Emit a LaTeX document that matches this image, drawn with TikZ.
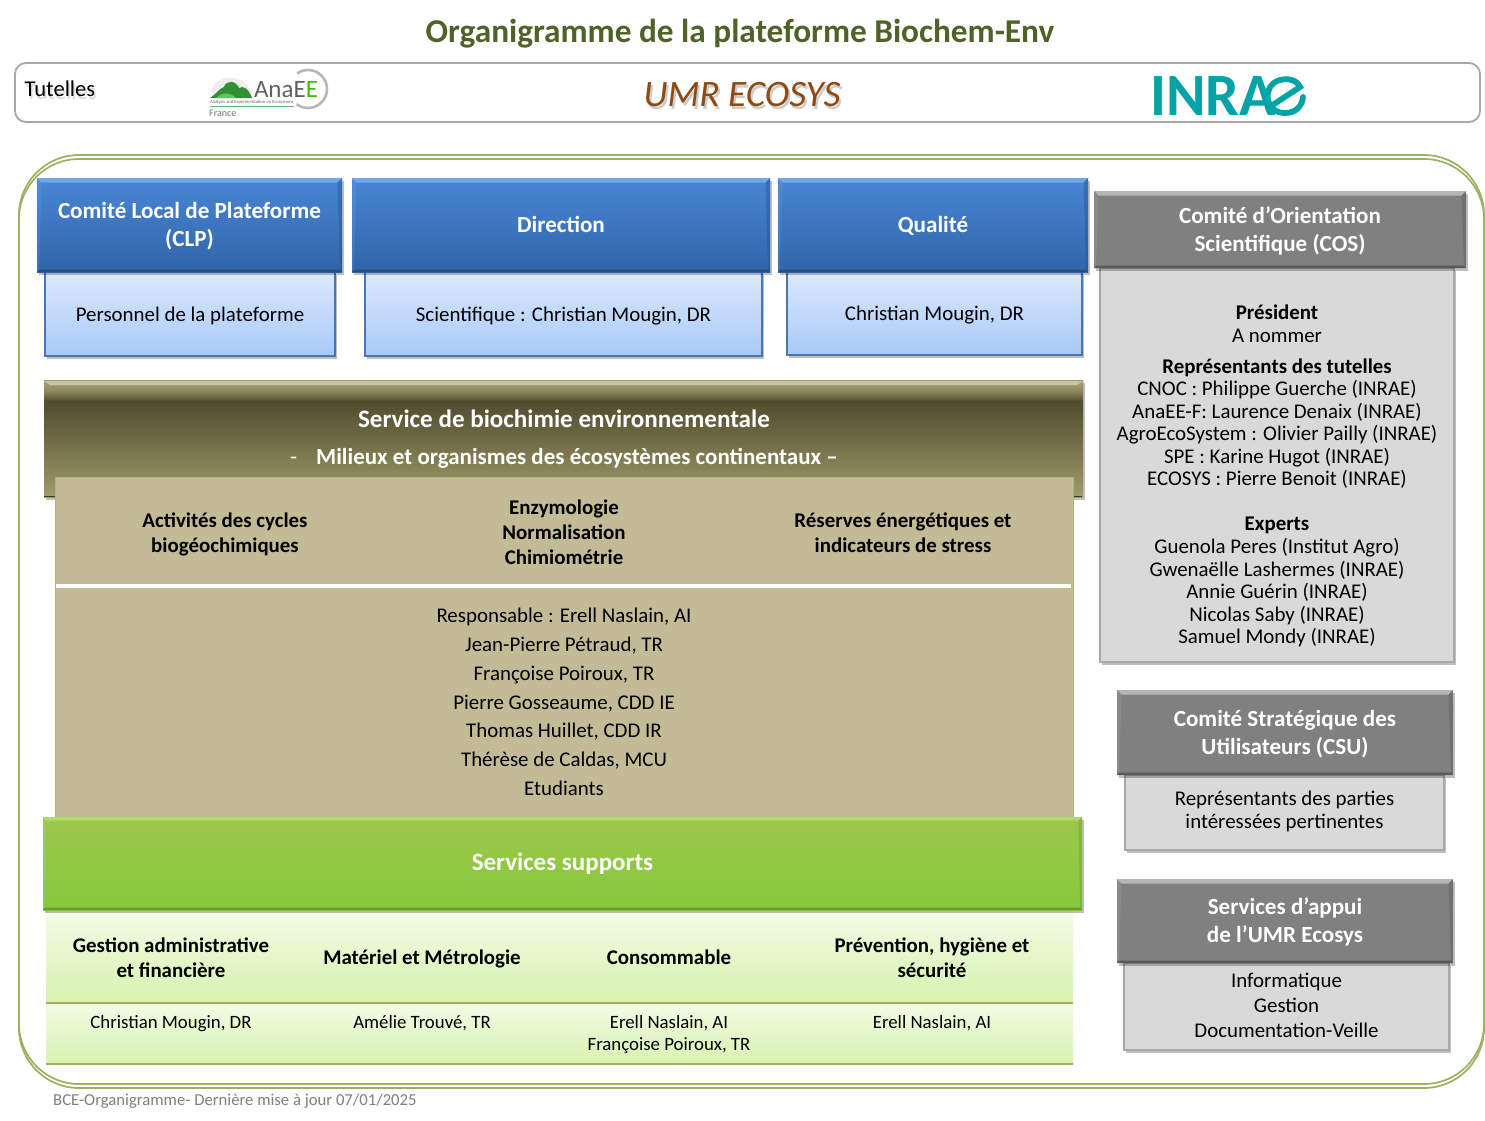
\documentclass[tikz,border=0pt]{standalone}
\usepackage{fontspec}
\setmainfont{Carlito}
\usetikzlibrary{shadows,calc}
\definecolor{titlegreen}{HTML}{4F6228}
\definecolor{framegreen}{HTML}{9BB25F}
\definecolor{tanfill}{HTML}{C3BB96}
\definecolor{inrae}{HTML}{00A3A6}
\definecolor{umrcol}{HTML}{8F4A12}
\definecolor{bluetop}{HTML}{4A86D6}\definecolor{bluebot}{HTML}{2F65A8}\definecolor{bluelite}{HTML}{6FA8EA}\definecolor{bluedark}{HTML}{28507F}
\definecolor{blueline}{HTML}{4877B0}\definecolor{paletop}{HTML}{DCE9FD}\definecolor{palebot}{HTML}{A9C9F9}
\definecolor{grayhd}{HTML}{808080}\definecolor{graylite}{HTML}{B5B5B5}\definecolor{graydark}{HTML}{595959}
\definecolor{grayline}{HTML}{A8A8A8}\definecolor{graybg}{HTML}{D9D9D9}\definecolor{tanline}{HTML}{A9B87A}
\definecolor{lgtop}{HTML}{F3FCE6}\definecolor{lgbot}{HTML}{D7F2AE}
\definecolor{grtop}{HTML}{9DC74C}\definecolor{grbot}{HTML}{85C93B}\definecolor{grlite}{HTML}{B2DB66}\definecolor{grdark}{HTML}{6A9A34}
\definecolor{brtop}{HTML}{A39D6C}\definecolor{brbot}{HTML}{A09B69}\definecolor{brdk}{HTML}{504B2D}\definecolor{brdeep}{HTML}{3F3A20}
\newcommand{\fs}[2]{\fontsize{#1}{#2}\selectfont}
\newcommand{\rbox}[6][]{%
  \pgfmathsetmacro{\cxx}{(#3+#5)/2}\pgfmathsetmacro{\cyy}{(#4+#6)/2}%
  \pgfmathsetmacro{\www}{#5-#3}\pgfmathsetmacro{\hhh}{#6-#4}%
  \node[rb,minimum width=\www pt,minimum height=\hhh pt,#1] (#2) at (\cxx,\cyy) {};}
\newcommand{\lbl}[5]{\node[#1] (#2) at ($(#3.center)+(0,#4)$) {#5};}
\tikzset{
  x=1pt,y=-1pt,
  rb/.style={inner sep=0pt,outer sep=0pt,align=center},
  softshadow/.style={drop shadow={shadow xshift=1.5pt,shadow yshift=-2.5pt,fill=black,opacity=.25}},
  bevel/.style n args={3}{path picture={
    \fill[#1] (path picture bounding box.north west) -- (path picture bounding box.north east)
      -- ([xshift=-#3pt,yshift=-#3pt]path picture bounding box.north east)
      -- ([xshift=#3pt,yshift=-#3pt]path picture bounding box.north west) -- cycle;
    \fill[#1,opacity=.2] (path picture bounding box.north west) -- ([xshift=#3pt,yshift=-#3pt]path picture bounding box.north west)
      -- ([xshift=2pt,yshift=2pt]path picture bounding box.south west) -- (path picture bounding box.south west) -- cycle;
    \fill[#2,opacity=.4] (path picture bounding box.north east) -- ([xshift=-#3pt,yshift=-#3pt]path picture bounding box.north east)
      -- ([xshift=-2pt,yshift=2pt]path picture bounding box.south east) -- (path picture bounding box.south east) -- cycle;
    \fill[#2] (path picture bounding box.south west) -- (path picture bounding box.south east)
      -- ([xshift=-2pt,yshift=2.5pt]path picture bounding box.south east)
      -- ([xshift=2pt,yshift=2.5pt]path picture bounding box.south west) -- cycle;
  }},
  txt/.style={inner sep=0pt,align=center},
  hdrtext/.style={txt,text=white,font=\fs{23.1}{28}\bfseries},
  bodytext/.style={txt,text=black,font=\fs{20.9}{25}},
  bluehdr/.style={softshadow,top color=bluetop,bottom color=bluebot,bevel={bluelite}{bluedark}{4.5}},
  bluebody/.style={draw=blueline,line width=1.5pt,top color=paletop,bottom color=palebot,softshadow},
  grayhdr/.style={softshadow,fill=grayhd,bevel={graylite}{graydark}{4.5}},
  graybody/.style={draw=grayline,line width=1.5pt,fill=graybg,softshadow},
  tanpanel/.style={fill=tanfill,draw=tanline,line width=1pt},
  palehigh/.style={top color=lgtop,bottom color=lgbot},
  cellhead/.style={txt,font=\fs{20.9}{25}\bfseries},
  cellname/.style={txt,font=\fs{18.8}{22}},
  person/.style={txt,font=\fs{20.9}{28.8}},
}
\begin{document}
\begin{tikzpicture}
\useasboundingbox (0,0) rectangle (1485,1120);
\fill[white] (0,0) rectangle (1485,1120);
% title
\node[txt,text=titlegreen,font=\fs{33.3}{38}\bfseries] (title) at (740,33.5) {Organigramme de la plateforme Biochem-Env};
% tutelles band
\draw[draw=grayline,line width=1.8pt,rounded corners=11pt] (15,63) rectangle (1480,122);
\node[txt,font=\fs{22.6}{26}] (tutelles) at (60,90) {\rlap{\kern1.5pt\raisebox{-2.5pt}{\textcolor{black!15}{Tutelles}}}Tutelles};
\node[txt,font=\fs{37.3}{42}\itshape,text=umrcol] (umr) at (742,96) {\rlap{\kern2pt\raisebox{-2.5pt}{\textcolor{black!20}{UMR ECOSYS}}}UMR ECOSYS};
% AnaEE logo
\fill[black!7] (211,92) .. controls (214,74) and (244,72) .. (251,92) -- cycle;
\fill[green!45!black!80] (210,98) .. controls (216,94) and (220,88) .. (224,87) .. controls (226,80) and (236,80) .. (239,88) .. controls (243,85) and (249,89) .. (252,98) -- cycle;
\fill[green!60!black!60] (216,98) .. controls (222,92) and (230,92) .. (236,98) -- cycle;
\node[txt,font=\fs{25}{28},text=black!62] (anaee) at (286,90) {Ana\textcolor{green!45!olive}{\textcolor{black!62}{E}E}};
\draw[black!28,line width=2.6pt] (308,89) ++(127:19) arc[start angle=127,end angle=-125,radius=19];
\draw[green!50!black!60,line width=.5pt] (210,106.5) -- (294,106.5);
\node[txt,font=\fs{4.6}{5},text=black!60,anchor=west] (anaeesub) at (210,102.5) {Analysis and Experimentation on Ecosystems};
\node[txt,font=\fs{10}{12},text=black!55,anchor=west] (anaeefr) at (209,113.5) {France};
% INRAE logo
\node[txt,anchor=west,text=inrae,font=\fs{60}{64}\bfseries] (inra) at (1150,96.5) {INRA};
\draw[inrae,line width=5.8pt,line cap=round] (1268,108) -- (1300,87) .. controls (1296,78) and (1284,78) .. (1277,81) .. controls (1262,88) and (1265,113) .. (1285,113) .. controls (1296,113) and (1302,106) .. (1303,97);
% outer frame
\draw[framegreen,line width=1.7pt,rounded corners=60pt] (19,155) rectangle (1484,1088);
\draw[framegreen,line width=1.7pt,rounded corners=60pt] (19,159) rectangle (1484,1084);
% blue column
\rbox[bluebody]{clpb}{45}{272}{335}{356}
\rbox[bluebody]{dirb}{365}{272}{762}{356}
\rbox[bluebody]{qualb}{787}{272}{1082}{355}
\rbox[bluehdr]{clp}{37}{178}{342}{272}
\rbox[bluehdr]{dir}{352}{178}{770}{272}
\rbox[bluehdr]{qual}{778}{178}{1088}{272}
\lbl{bodytext}{clpbt}{clpb}{2}{Personnel de la plateforme}
\lbl{bodytext}{dirbt}{dirb}{2}{Scientifique : Christian Mougin, DR}
\lbl{bodytext}{qualbt}{qualb}{2}{Christian Mougin, DR}
\lbl{hdrtext}{clpt}{clp}{1}{Comité Local de Plateforme\\(CLP)}
\lbl{hdrtext}{dirt}{dir}{-1}{Direction}
\lbl{hdrtext}{qualt}{qual}{1}{Qualité}
% service
\rbox[softshadow,top color=brdeep,bottom color=brbot,path picture={
  \foreach \i in {0,...,21} {
    \pgfmathtruncatemacro{\mx}{100-\i*\i/4.41}
    \fill[brtop!\mx!brdk] ([yshift=-\i pt]path picture bounding box.north west) rectangle ([yshift=-\i pt-1.2pt]path picture bounding box.north east);
  }
  \fill[brtop!60!white] ([yshift=-1pt]path picture bounding box.north west) -- ([yshift=-1pt]path picture bounding box.north east) -- ([yshift=-5pt,xshift=-6pt]path picture bounding box.north east) -- ([yshift=-5pt,xshift=6pt]path picture bounding box.north west) -- cycle;
  \fill[brdk!80!black] (path picture bounding box.south west) rectangle ([xshift=-1pt,yshift=1.5pt]path picture bounding box.south east);
}]{serv}{44}{380}{1083}{497}
\node[txt,text=white,font=\fs{25.1}{30}\bfseries] (servt) at (564,419) {Service de biochimie environnementale};
\node[txt,text=white,font=\fs{23}{27}\bfseries] (servs) at (564,458) {\textmd{-}\hspace{19pt}Milieux et organismes des écosystèmes continentaux –};
\rbox[tanpanel]{tanp}{55}{477}{1073}{817}
\coordinate (sepl) at ($(tanp.north west)+(1,109)$);
\coordinate (sepr) at ($(tanp.north east)+(-2,109)$);
\draw[white,line width=3.5pt] (sepl) -- (sepr);
\node[cellhead] (c1) at (225,534) {Activités des cycles\\biogéochimiques};
\node[cellhead] (c2) at (564,532.5) {Enzymologie\\Normalisation\\Chimiométrie};
\node[cellhead] (c3) at (903,533) {Réserves énergétiques et\\indicateurs de stress};
\node[person] (team) at (564,702) {Responsable : Erell Naslain, AI\\Jean-Pierre Pétraud, TR\\Françoise Poiroux, TR\\Pierre Gosseaume, CDD IE\\Thomas Huillet, CDD IR\\Thérèse de Caldas, MCU\\Etudiants};
% supports
\rbox[palehigh]{pale1}{46}{910}{1073}{1003}
\rbox[palehigh]{pale2}{46}{1003}{1073}{1064}
\draw[framegreen,line width=1.6pt] (pale1.south west) -- (pale1.south east);
\draw[framegreen,line width=1.6pt] (pale2.south west) -- (pale2.south east);
\rbox[softshadow,top color=grtop,bottom color=grbot,bevel={grlite}{grdark}{3.5}]{supp}{43}{817}{1082}{910}
\lbl{hdrtext,font=\fs{25}{30}\bfseries}{suppt}{supp}{0}{Services supports}
\node[cellhead] (g1) at (171,958) {Gestion administrative\\et financière};
\node[cellhead] (g2) at (422,959) {Matériel et Métrologie};
\node[cellhead] (g3) at (669,957) {Consommable};
\node[cellhead] (g4) at (932,958) {Prévention, hygiène et\\sécurité};
\node[cellname] (n1) at (171,1024) {Christian Mougin, DR};
\node[cellname] (n2) at (422,1023) {Amélie Trouvé, TR};
\node[cellname] (n3) at (669,1035) {Erell Naslain, AI\\Françoise Poiroux, TR};
\node[cellname] (n4) at (932,1023) {Erell Naslain, AI};
% right column
\rbox[graybody]{cosb}{1100}{268}{1454}{662}
\rbox[grayhdr]{cos}{1094}{191}{1466}{268}
\lbl{hdrtext}{cost}{cos}{1}{Comité d’Orientation\\Scientifique (COS)}
\node[txt,font=\fs{20.9}{22.55}] (cosbt) at (1277,476) {\textbf{Président}\\A nommer\\[8.5pt]\textbf{Représentants des tutelles}\\CNOC : Philippe Guerche (INRAE)\\AnaEE-F: Laurence Denaix (INRAE)\\AgroEcoSystem : Olivier Pailly (INRAE)\\SPE : Karine Hugot (INRAE)\\ECOSYS : Pierre Benoit (INRAE)\\[22.5pt]\textbf{Experts}\\Guenola Peres (Institut Agro)\\Gwenaëlle Lashermes (INRAE)\\Annie Guérin (INRAE)\\Nicolas Saby (INRAE)\\Samuel Mondy (INRAE)};
\rbox[graybody]{csub}{1125}{775}{1444}{850}
\rbox[grayhdr]{csu}{1117}{690}{1453}{775}
\lbl{hdrtext}{csut}{csu}{2}{Comité Stratégique des\\Utilisateurs (CSU)}
\lbl{bodytext,font=\fs{20.9}{23}}{csubt}{csub}{-1}{Représentants des parties\\intéressées pertinentes}
\rbox[graybody]{appb}{1124}{963}{1449}{1050}
\rbox[grayhdr]{app}{1117}{879}{1453}{963}
\lbl{hdrtext}{appt}{app}{1}{Services d’appui\\de l’UMR Ecosys}
\lbl{bodytext}{appbt}{appb}{-1}{Informatique\\Gestion\\Documentation-Veille}
% footer
\node[txt,anchor=west,text=black!50,font=\fs{16.7}{20}] (foot) at (53,1101) {BCE-Organigramme- Dernière mise à jour 07/01/2025};
\end{tikzpicture}
\end{document}
